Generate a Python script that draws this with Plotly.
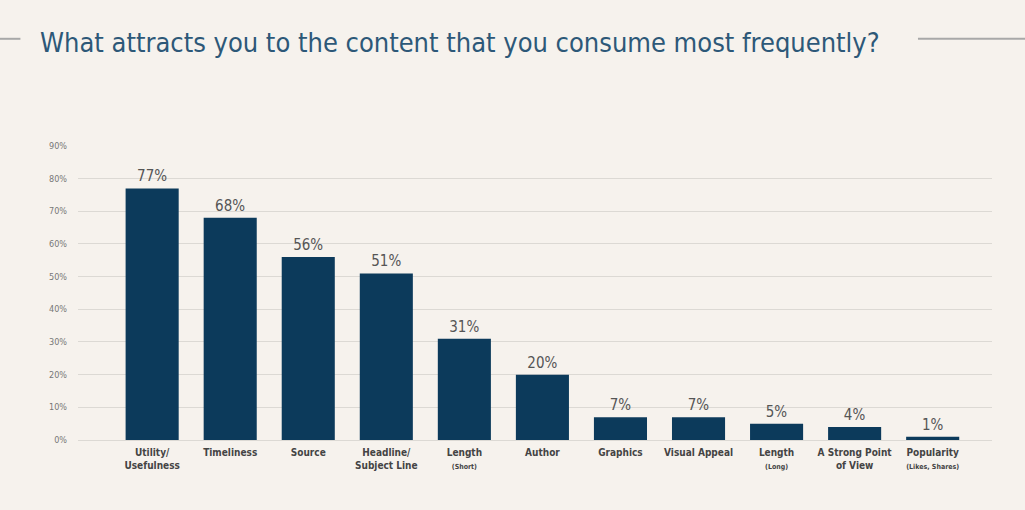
import plotly.graph_objects as go

# 数据
categories = [
    "<b>Utility/<br>Usefulness</b>",
    "<b>Timeliness</b>",
    "<b>Source</b>",
    "<b>Headline/<br>Subject Line</b>",
    "<b>Length</b><br><span style='font-size:7px'><b>(Short)</b></span>",
    "<b>Author</b>",
    "<b>Graphics</b>",
    "<b>Visual Appeal</b>",
    "<b>Length</b><br><span style='font-size:7px'><b>(Long)</b></span>",
    "<b>A Strong Point<br>of View</b>",
    "<b>Popularity</b><br><span style='font-size:7px'><b>(Likes, Shares)</b></span>",
]
values = [77, 68, 56, 51, 31, 20, 7, 7, 5, 4, 1]
y_ticks = [0, 10, 20, 30, 40, 50, 60, 70, 80, 90]
y_tick_labels = ["0%", "10%", "20%", "30%", "40%", "50%", "60%", "70%", "80%", "90%"]

bg = "#f6f2ed"
bar_color = "#0c3a5b"
font_narrow = "DejaVu Sans Condensed, Liberation Sans Narrow, sans-serif"

fig = go.Figure()

fig.add_trace(go.Bar(
    x=list(range(len(values))),
    y=values,
    marker=dict(color=bar_color, line=dict(width=0)),
    width=0.68,
    text=values,
    texttemplate="%{text}%",
    textposition="outside",
    textfont=dict(family=font_narrow, size=15, color="#555555"),
    cliponaxis=False,
))

fig.update_layout(
    width=1025, height=510,
    paper_bgcolor=bg, plot_bgcolor=bg,
    margin=dict(l=78, r=33, t=145, b=70),
    showlegend=False,
    title=dict(
        text="What attracts you to the content that you consume most frequently?",
        x=0.039, xanchor="left", y=0.916, yanchor="middle",
        font=dict(family=font_narrow, size=27, color="#2d5878"),
    ),
    shapes=[
        dict(type="line", xref="paper", yref="paper", x0=-0.09, x1=-0.063,
             y0=1.36, y1=1.36, line=dict(color="#a8a8a8", width=2)),
        dict(type="line", xref="paper", yref="paper", x0=0.919, x1=1.04,
             y0=1.36, y1=1.36, line=dict(color="#a8a8a8", width=2)),
    ],
)

fig.update_xaxes(
    tickmode="array",
    tickvals=list(range(len(values))),
    ticktext=categories,
    range=[-0.95, 10.76],
    tickfont=dict(family=font_narrow, size=10, color="#444444"),
    showgrid=False, zeroline=False, showline=False, ticks="",
    ticklabelstandoff=5,
)
fig.update_yaxes(
    range=[0, 90.3],
    tickmode="array",
    tickvals=y_ticks,
    ticktext=y_tick_labels,
    tickfont=dict(family=font_narrow, size=9, color="#777777"),
    showgrid=True, gridcolor="#dcd9d4", gridwidth=1,
    zeroline=True, zerolinecolor="#dcd9d4", zerolinewidth=1,
    showline=False, ticks="", ticklabelstandoff=10,
)

fig.write_html("out.html", config={"displayModeBar": False},
               post_script="document.body.style.margin='0';")
